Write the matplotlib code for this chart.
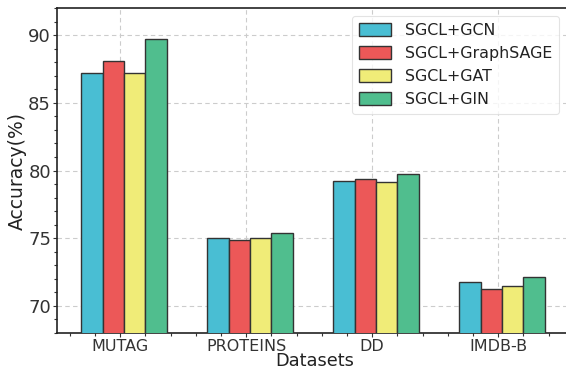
import matplotlib
matplotlib.use("Agg")
import matplotlib.pyplot as plt
import numpy as np
from matplotlib.ticker import AutoMinorLocator, MultipleLocator

datasets = ["MUTAG", "PROTEINS", "DD", "IMDB-B"]
series_names = ["SGCL+GCN", "SGCL+GraphSAGE", "SGCL+GAT", "SGCL+GIN"]
gcn = [87.2, 75.0, 79.23, 71.74]
graphsage = [88.1, 74.85, 79.38, 71.27]
gat = [87.2, 75.0, 79.16, 71.42]
gin = [89.7, 75.34, 79.73, 72.14]
colors = ["#49BED3", "#EC5858", "#F0EC78", "#50BE8E"]

fig = plt.figure(figsize=(5.66, 3.71), dpi=100)
ax = fig.add_axes([0.1012, 0.1032, 1.01 - 0.1012, 0.9776 - 0.1032])

x = np.arange(len(datasets))
w = 0.17
for i, (vals, name, c) in enumerate(zip([gcn, graphsage, gat, gin], series_names, colors)):
    ax.bar(x + (i - 1.5) * w + 0.03, vals, width=w, color=c, edgecolor="#333333",
           linewidth=1.0, label=name, zorder=3)

ax.set_ylim(68, 92)
ax.set_xlim(-0.5, 3.583)
ax.set_xticks(x)
ax.set_xticklabels(datasets, fontsize=11.5, color="#333333")
ax.yaxis.set_major_locator(MultipleLocator(5))
ax.set_yticks([70, 75, 80, 85, 90])
ax.yaxis.set_minor_locator(AutoMinorLocator(5))
ax.xaxis.set_minor_locator(AutoMinorLocator(5))
ax.tick_params(axis="y", labelsize=13, colors="#333333", pad=1.5)
ax.tick_params(axis="x", pad=1.5)
ax.tick_params(which="major", length=3, width=0.8, color="#333333")
ax.tick_params(which="minor", length=2, width=0.8, color="#333333")
ax.grid(True, which="major", linestyle=(0, (4, 3)), color="#cccccc", linewidth=0.8, zorder=0)
ax.set_axisbelow(True)
for s in ax.spines.values():
    s.set_color("#222222")
    s.set_linewidth(1.2)
ax.spines["right"].set_visible(False)

ax.set_xlabel("Datasets", fontsize=12.8, color="#222222", labelpad=-1.5)
ax.set_ylabel("Accuracy(%)", fontsize=13.5, color="#222222", labelpad=1)

leg = ax.legend(loc="upper right", bbox_to_anchor=(0.976, 0.976), borderaxespad=0,
                fontsize=11.4, frameon=True, fancybox=True, handlelength=2.0,
                handleheight=0.9, borderpad=0.45, labelspacing=0.5, handletextpad=0.9)
leg.get_frame().set_edgecolor("#dddddd")
leg.get_frame().set_linewidth(0.8)
for t in leg.get_texts():
    t.set_color("#222222")

fig.savefig("out.png", dpi=100)
